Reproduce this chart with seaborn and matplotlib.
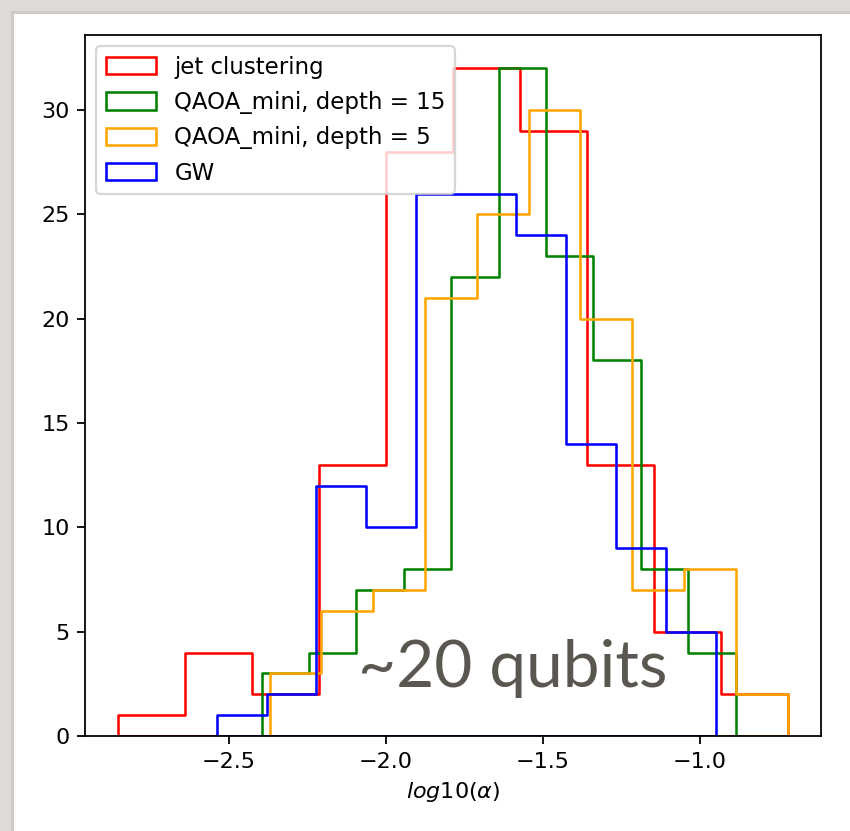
import numpy as np
import matplotlib
matplotlib.use("Agg")
import matplotlib.pyplot as plt
from matplotlib.patches import Rectangle
import seaborn as sns

# ---- data (10 bins per series) ----
labels = ["jet clustering", "QAOA_mini, depth = 15", "QAOA_mini, depth = 5", "GW"]
colors = ["red", "green", "orange", "blue"]

jet_counts = [1, 4, 2, 13, 28, 32, 29, 13, 5, 2]
qaoa15_counts = [3, 4, 7, 8, 22, 32, 23, 18, 8, 4]
qaoa5_counts = [3, 6, 7, 21, 25, 30, 20, 7, 8, 2]
gw_counts = [1, 2, 12, 10, 26, 26, 24, 14, 9, 5]

jet_range = (-2.8525, -0.7213)
qaoa15_range = (-2.3965, -0.8869)
qaoa5_range = (-2.3710, -0.7213)
gw_range = (-2.5398, -0.9506)

x_ticks = [-2.5, -2.0, -1.5, -1.0]
y_ticks = [0, 5, 10, 15, 20, 25, 30]
x_label = r"$log10(\alpha)$"
annotation = "~20 qubits"

series = [
    (labels[0], jet_counts, jet_range, colors[0]),
    (labels[1], qaoa15_counts, qaoa15_range, colors[1]),
    (labels[2], qaoa5_counts, qaoa5_range, colors[2]),
    (labels[3], gw_counts, gw_range, colors[3]),
]

fig = plt.figure(figsize=(850 / 160, 831 / 160), dpi=160)
fig.patch.set_facecolor("#dedbd6")
# white sheet of the screenshot (with a faint shadow edge)
fig.patches.append(Rectangle((11 / 850, 0), 1, (831 - 11) / 831,
                             transform=fig.transFigure, facecolor="#cfcbc6",
                             edgecolor="none", zorder=-6))
fig.patches.append(Rectangle((14 / 850, 0), 1, (831 - 14) / 831,
                             transform=fig.transFigure, facecolor="white",
                             edgecolor="none", zorder=-5))

ax = fig.add_axes([85 / 850, 95 / 831, (821 - 85) / 850, (736 - 35) / 831])
ax.set_facecolor("white")

for name, counts, rng, col in series:
    edges = np.linspace(rng[0], rng[1], len(counts) + 1)
    centers = (edges[:-1] + edges[1:]) / 2
    sns.histplot(x=centers, weights=counts, bins=len(counts), binrange=rng,
                 element="step", fill=True, facecolor="none", edgecolor=col,
                 color=col, linewidth=1.15, label=name, ax=ax)

lo = min(r[0] for _, _, r, _ in series)
hi = max(r[1] for _, _, r, _ in series)
pad = 0.05 * (hi - lo)
ax.set_xlim(lo - pad, hi + pad)
ymax = max(max(c) for _, c, _, _ in series)
ax.set_ylim(0, ymax * 1.05)

ax.set_xticks(x_ticks)
ax.set_yticks(y_ticks)
ax.set_xlabel(x_label)
ax.set_ylabel("")

ax.legend(loc="upper left", fontsize=10.3, labelspacing=0.54,
          handlelength=2.2, handleheight=0.8)

ax.text(-2.09, 2.35, annotation, fontsize=29.6, family=["Lato", "DejaVu Sans"],
        color="#5a5650", va="baseline", ha="left")

fig.savefig("out.png", dpi=160, facecolor=fig.get_facecolor())
